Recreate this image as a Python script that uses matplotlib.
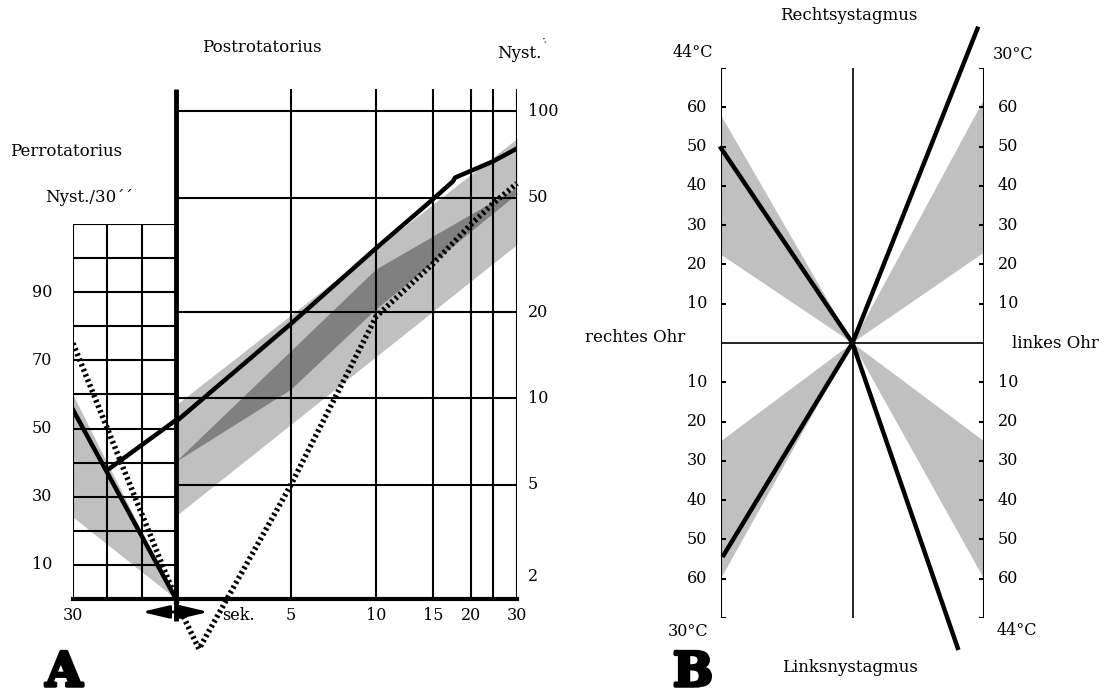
import numpy as np
import matplotlib.pyplot as plt
import matplotlib.patheffects as pe

plt.rcParams['font.family'] = ['DejaVu Serif']

# ---- A: Perrotatorius (Sekunden 30..0, Nyst./30'')
per_sek = [30, 0]
per_nyst = [55.5, 0]
per_punkt = [75, 0]
per_band_sek = [30, 0, 30]
per_band = [60, 0, 24]
per_anstieg_sek = [20, 0]
per_anstieg = [37.8, 52.5]
per_labels = [10, 30, 50, 70, 90]
per_zeilen = list(range(0, 120, 10))
per_spalten = [30, 20, 10]

# ---- A: Postrotatorius (Sekunden, Nyst. log)
post_sek = [0, 5, 10, 15, 17.6, 17.9, 25, 30]
post_nyst = [8.3, 18.2, 33.4, 49.5, 57, 58.8, 67, 74.3]
punkt_sek = [0, 1.0, 5, 10, 15, 20, 25, 30]
punkt_nyst = [1.96, 1.34, 5, 19.3, 29.5, 40.4, 47.8, 56.1]
hell_sek = [0, 30]
hell_oben = [9.5, 80.5]
hell_unten = [3.9, 34.4]
dunkel_oben_sek = [0, 10, 30]
dunkel_oben = [6.0, 28.1, 54]
dunkel_unten_sek = [0, 5, 10, 30]
dunkel_unten = [6.0, 10.7, 20.4, 51.4]
post_ylabels = [100, 50, 20, 10, 5]
post_hlinien = [5, 10, 20, 50, 100]
sek_linien = [5, 10, 15, 20, 25, 30]
sek_labels = [5, 10, 15, 20, 30]

# ---- B: Kalorik
b_ticks = [10, 20, 30, 40, 50, 60]
b_striche = [-70, -60, -50, -40, -30, -20, -10, 10, 20, 30, 40, 50, 60, 70]
b_linien_x = [-1, -0.98, 0.95, 0.80]
b_linien_y = [49.6, -54, 80, -77.6]
b_band_x = [-1, 1, -1, 1]
b_band_a = [58, 62, -25, -25]
b_band_b = [22.5, 23, -60, -60]

W, H = 1113, 698
fig = plt.figure(figsize=(W / 100, H / 100), dpi=100)


def box(x0, y0, x1, y1):
    return [x0 / W, 1 - y1 / H, (x1 - x0) / W, (y1 - y0) / H]


def ftext(px, py, s, **kw):
    return fig.text(px / W, 1 - py / H, s, **kw)


hell = '#c0c0c0'
dunkel = '#808080'
fs = 12
fett = [pe.withStroke(linewidth=2.5, foreground='k')]

# Skala der Sekundenachse (nicht linear)
skala_sek = [0, 5, 10, 15, 20, 25, 30]
skala_pos = [0, 0.337, 0.587, 0.754, 0.865, 0.930, 1.0]


def vor(x):
    return np.interp(x, skala_sek, skala_pos)


def rueck(x):
    return np.interp(x, skala_pos, skala_sek)


# ----- linkes Raster
axL = fig.add_axes(box(73, 224, 176, 599))
axL.set_xlim(30, 0)
axL.set_ylim(0, 110)
for s in ['top', 'left', 'right']:
    axL.spines[s].set_visible(False)
axL.spines['bottom'].set_linewidth(3)
axL.set_xticks([])
axL.set_yticks([])
axL.patch.set_alpha(0)
axL.fill(per_band_sek, per_band, color=hell, lw=0, zorder=1)
axL.hlines(per_zeilen, 30, 0, color='k', lw=1.5, zorder=2)
axL.vlines(per_spalten, 0, 110, color='k', lw=1.5, zorder=2)
axL.plot(per_sek, per_nyst, color='k', lw=3.2, zorder=3)
axL.plot(per_anstieg_sek, per_anstieg, color='k', lw=3.2, zorder=3,
         solid_capstyle='butt')
axL.plot(per_sek, per_punkt, color='k', lw=4, ls=(0, (0.45, 0.55)), zorder=3)
for v in per_labels:
    axL.annotate(str(v), (30, v), xytext=(-15, 0), textcoords='offset points',
                 ha='right', va='center', fontsize=fs - 0.5)
axL.annotate('30', (30, 0), xytext=(0, -6), textcoords='offset points',
             ha='center', va='top', fontsize=fs - 0.5)
axL.annotate('', xy=(-9.5, -3.8), xytext=(10, -3.8),
             arrowprops=dict(arrowstyle='<|-|>,head_length=0.55,head_width=0.13',
                             color='k', lw=2, mutation_scale=30,
                             shrinkA=0, shrinkB=0),
             annotation_clip=False)

# ----- rechtes Diagramm
axR = fig.add_axes(box(176, 88.7, 517, 599))
axR.set_xscale('function', functions=(vor, rueck))
axR.set_yscale('log')
axR.set_xlim(0, 30)
axR.set_ylim(2, 120)
for s in ['top', 'left', 'right']:
    axR.spines[s].set_visible(False)
axR.spines['bottom'].set_linewidth(3)
axR.set_xticks([])
axR.set_yticks([])
axR.minorticks_off()
axR.patch.set_alpha(0)
axR.fill_between(hell_sek, hell_unten, hell_oben, color=hell, lw=0, zorder=1)
axR.fill(np.r_[dunkel_oben_sek, dunkel_unten_sek[::-1]],
         np.r_[dunkel_oben, dunkel_unten[::-1]], color=dunkel, lw=0, zorder=1)
axR.hlines(post_hlinien, 0, 30, color='k', lw=1.5, zorder=2)
axR.vlines(sek_linien, 2, 120, color='k', lw=1.5, zorder=2)
axR.vlines(0, 1.67, 120, color='k', lw=3.5, zorder=4, clip_on=False)
axR.plot(post_sek, post_nyst, color='k', lw=3.2, zorder=3)
axR.plot(punkt_sek, punkt_nyst, color='k', lw=4, ls=(0, (0.45, 0.55)),
         zorder=3, clip_on=False)
for v in post_ylabels:
    axR.annotate(str(v), (30, v), xytext=(8, 0), textcoords='offset points',
                 ha='left', va='center', fontsize=fs - 0.5)
axR.annotate('2', (30, 2), xytext=(8, 16), textcoords='offset points',
             ha='left', va='center', fontsize=fs - 0.5)
for s in sek_labels:
    axR.annotate(str(s), (s, 2), xytext=(0, -6), textcoords='offset points',
                 ha='center', va='top', fontsize=fs - 0.5)
axR.annotate('sek.', (0, 2), xytext=(45, -6), textcoords='offset points',
             ha='center', va='top', fontsize=fs - 0.5)

ftext(262, 48, 'Postrotatorius', ha='center', va='center', fontsize=fs)
ftext(497, 53, 'Nyst.', ha='left', va='center', fontsize=fs)
ftext(545, 40, ':', ha='center', va='center', fontsize=8, rotation=20)
ftext(10, 151, 'Perrotatorius', ha='left', va='center', fontsize=fs)
ftext(45, 197, 'Nyst./30´´', ha='left', va='center', fontsize=fs)
ftext(64, 673, 'A', ha='center', va='center', fontsize=34,
      fontweight='bold', path_effects=fett)

# ----- B
axB = fig.add_axes(box(721, 68, 984, 618))
axB.set_xlim(-1, 1)
axB.set_ylim(-70, 70)
axB.axis('off')
for bx, a, b in zip(b_band_x, b_band_a, b_band_b):
    axB.fill([0, bx, bx], [0, a, b], color=hell, lw=0, zorder=1)
axB.vlines([-1, 1], -70, 70, color='k', lw=1.5, zorder=2)
axB.vlines(0, -70, 70, color='k', lw=1.2, zorder=2)
axB.hlines(0, -1, 1, color='k', lw=1.2, zorder=2)
axB.hlines(b_striche, -1.045, -0.965, color='k', lw=1.5, zorder=2)
axB.hlines(b_striche, 0.965, 1.045, color='k', lw=1.5, zorder=2)
for lx, ly in zip(b_linien_x, b_linien_y):
    axB.plot([0, lx], [0, ly], color='k', lw=3.2, zorder=3, clip_on=False)
for v in b_ticks:
    for sgn in (1, -1):
        axB.annotate(str(v), (-1, sgn * v), xytext=(-10, 0),
                     textcoords='offset points', ha='right', va='center',
                     fontsize=fs - 0.5)
        axB.annotate(str(v), (1, sgn * v), xytext=(10, 0),
                     textcoords='offset points', ha='left', va='center',
                     fontsize=fs - 0.5)
axB.annotate('44°C', (-1, 70), xytext=(-6, 11), textcoords='offset points',
             ha='right', va='center', fontsize=fs - 0.5)
axB.annotate('30°C', (1, 70), xytext=(6, 10), textcoords='offset points',
             ha='left', va='center', fontsize=fs - 0.5)
axB.annotate('30°C', (-1, -70), xytext=(-9, -10), textcoords='offset points',
             ha='right', va='center', fontsize=fs - 0.5)
axB.annotate('44°C', (1, -70), xytext=(9, -9), textcoords='offset points',
             ha='left', va='center', fontsize=fs - 0.5)
axB.annotate('rechtes Ohr', (-1, 0), xytext=(-26, 4), textcoords='offset points',
             ha='right', va='center', fontsize=fs)
axB.annotate('linkes Ohr', (1, 0), xytext=(20, 0), textcoords='offset points',
             ha='left', va='center', fontsize=fs)

ftext(849, 16, 'Rechtsystagmus', ha='center', va='center', fontsize=fs)
ftext(850, 667, 'Linksnystagmus', ha='center', va='center', fontsize=fs)
ftext(693, 673, 'B', ha='center', va='center', fontsize=34,
      fontweight='bold', path_effects=fett)

fig.savefig('out.png', dpi=100)
